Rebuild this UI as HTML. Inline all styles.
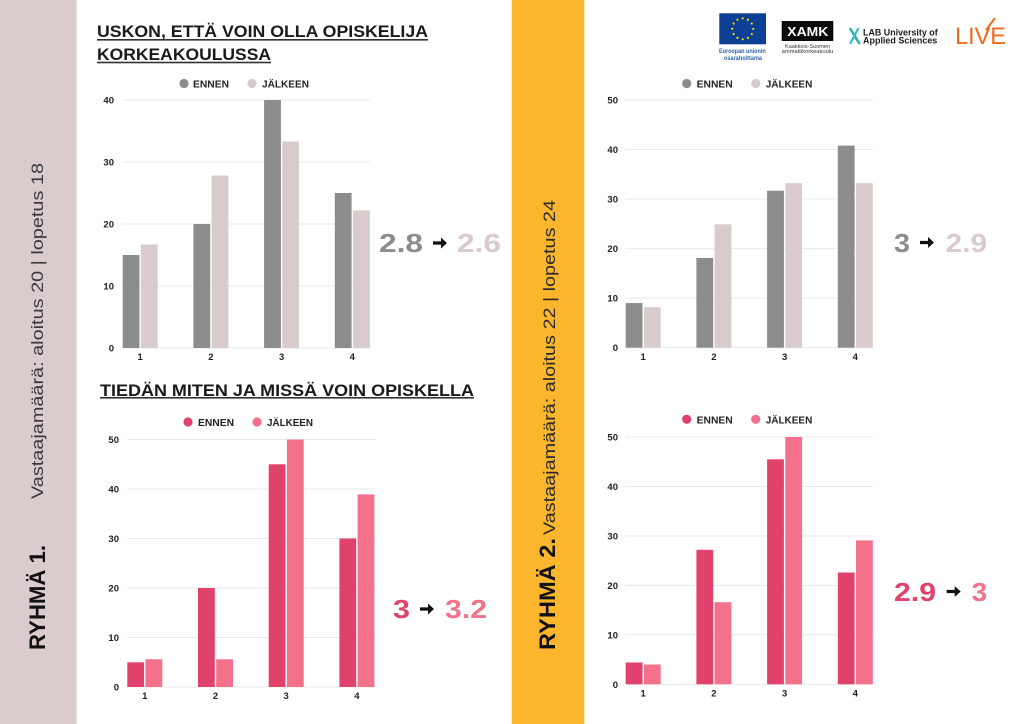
<!DOCTYPE html>
<html>
<head>
<meta charset="utf-8">
<style>
  html,body{margin:0;padding:0;background:#fff;}
  svg{display:block;}
  text{font-family:"Liberation Sans",sans-serif;}
</style>
</head>
<body>
<svg width="1024" height="724" viewBox="0 0 1024 724" xmlns="http://www.w3.org/2000/svg">
  <rect x="0" y="0" width="1024" height="724" fill="#ffffff"/>

  <!-- Sidebars -->
  <rect x="0" y="0" width="76.5" height="724" fill="#dacccc"/>
  <rect x="511.7" y="0" width="72.6" height="724" fill="#fbb62e"/>

  <!-- Left vertical texts -->
  <text transform="translate(45,650) rotate(-90)" font-size="22" font-weight="bold" fill="#111" textLength="105" lengthAdjust="spacingAndGlyphs">RYHMÄ 1.</text>
  <text transform="translate(43,499) rotate(-90)" font-size="16.5" fill="#3a3a3a" textLength="336" lengthAdjust="spacingAndGlyphs">Vastaajamäärä: aloitus 20 | lopetus 18</text>

  <!-- Right vertical texts -->
  <text transform="translate(555,650) rotate(-90)" font-size="22" font-weight="bold" fill="#111" textLength="112" lengthAdjust="spacingAndGlyphs">RYHMÄ 2.</text>
  <text transform="translate(555,535) rotate(-90)" font-size="16.5" fill="#2a2a2a" textLength="335" lengthAdjust="spacingAndGlyphs">Vastaajamäärä: aloitus 22 | lopetus 24</text>

  <!-- ============ TOP LEFT CHART ============ -->
  <text x="97" y="37" font-size="17" font-weight="bold" fill="#1a1a1a" textLength="331" lengthAdjust="spacingAndGlyphs">USKON, ETTÄ VOIN OLLA OPISKELIJA</text>
  <rect x="97" y="39" width="331" height="1.6" fill="#333"/>
  <text x="97" y="60" font-size="17" font-weight="bold" fill="#1a1a1a" textLength="174" lengthAdjust="spacingAndGlyphs">KORKEAKOULUSSA</text>
  <rect x="97" y="61.7" width="174" height="1.6" fill="#333"/>

  <!-- legend -->
  <circle cx="184" cy="83.5" r="4.6" fill="#8c8c8c"/>
  <text x="193" y="87.5" font-size="10" font-weight="bold" fill="#222" textLength="36" lengthAdjust="spacingAndGlyphs">ENNEN</text>
  <circle cx="252" cy="83.5" r="4.6" fill="#d9cbcb"/>
  <text x="262" y="87.5" font-size="10" font-weight="bold" fill="#222" textLength="47" lengthAdjust="spacingAndGlyphs">JÄLKEEN</text>

  <!-- grid -->
  <g stroke="#e9e9e9" stroke-width="1">
    <line x1="122" y1="100" x2="370" y2="100"/>
    <line x1="122" y1="162" x2="370" y2="162"/>
    <line x1="122" y1="224" x2="370" y2="224"/>
    <line x1="122" y1="286" x2="370" y2="286"/>
    <line x1="122" y1="348" x2="370" y2="348"/>
  </g>
  <g font-size="9.5" font-weight="bold" fill="#222" text-anchor="end">
    <text x="114" y="103.5">40</text>
    <text x="114" y="165.5">30</text>
    <text x="114" y="227.5">20</text>
    <text x="114" y="289.5">10</text>
    <text x="114" y="351.5">0</text>
  </g>
  <g fill="#8c8c8c">
    <rect x="122.7" y="255" width="16.8" height="93"/>
    <rect x="193.4" y="224" width="16.8" height="124"/>
    <rect x="264.1" y="100" width="16.8" height="248"/>
    <rect x="334.8" y="193" width="16.8" height="155"/>
  </g>
  <g fill="#d9cbcb">
    <rect x="140.9" y="244.5" width="16.8" height="103.5"/>
    <rect x="211.6" y="175.6" width="16.8" height="172.4"/>
    <rect x="282.3" y="141.5" width="16.8" height="206.5"/>
    <rect x="353.0" y="210.4" width="16.8" height="137.6"/>
  </g>
  <g font-size="9.5" font-weight="bold" fill="#222" text-anchor="middle">
    <text x="140.2" y="360">1</text>
    <text x="210.9" y="360">2</text>
    <text x="281.6" y="360">3</text>
    <text x="352.3" y="360">4</text>
  </g>
  <!-- big numbers -->
  <text x="379" y="252" font-size="26" font-weight="bold" fill="#8c8c8c" textLength="44" lengthAdjust="spacingAndGlyphs">2.8</text>
  <polygon points="433,241.4 441,241.4 441,237.5 447,243 441,248.5 441,244.6 433,244.6" fill="#111"/>
  <text x="457" y="252" font-size="26" font-weight="bold" fill="#d9cbcb" textLength="44" lengthAdjust="spacingAndGlyphs">2.6</text>

  <!-- ============ BOTTOM LEFT CHART ============ -->
  <text x="100" y="396" font-size="17" font-weight="bold" fill="#1a1a1a" textLength="374" lengthAdjust="spacingAndGlyphs">TIEDÄN MITEN JA MISSÄ VOIN OPISKELLA</text>
  <rect x="100" y="397" width="374" height="1.6" fill="#333"/>

  <circle cx="188" cy="422" r="4.6" fill="#e1426c"/>
  <text x="198" y="426" font-size="10" font-weight="bold" fill="#222" textLength="36" lengthAdjust="spacingAndGlyphs">ENNEN</text>
  <circle cx="257" cy="422" r="4.6" fill="#f3718a"/>
  <text x="267" y="426" font-size="10" font-weight="bold" fill="#222" textLength="46" lengthAdjust="spacingAndGlyphs">JÄLKEEN</text>

  <g stroke="#e9e9e9" stroke-width="1">
    <line x1="127" y1="439.5" x2="375" y2="439.5"/>
    <line x1="127" y1="489" x2="375" y2="489"/>
    <line x1="127" y1="538.5" x2="375" y2="538.5"/>
    <line x1="127" y1="588" x2="375" y2="588"/>
    <line x1="127" y1="637.5" x2="375" y2="637.5"/>
    <line x1="127" y1="687" x2="375" y2="687"/>
  </g>
  <g font-size="9.5" font-weight="bold" fill="#222" text-anchor="end">
    <text x="119" y="443">50</text>
    <text x="119" y="492.5">40</text>
    <text x="119" y="542">30</text>
    <text x="119" y="591.5">20</text>
    <text x="119" y="641">10</text>
    <text x="119" y="690.5">0</text>
  </g>
  <g fill="#e1426c">
    <rect x="127.3" y="662.3" width="16.8" height="24.7"/>
    <rect x="198.0" y="588" width="16.8" height="99"/>
    <rect x="268.7" y="464.3" width="16.8" height="222.7"/>
    <rect x="339.4" y="538.5" width="16.8" height="148.5"/>
  </g>
  <g fill="#f3718a">
    <rect x="145.5" y="659.3" width="16.8" height="27.7"/>
    <rect x="216.2" y="659.3" width="16.8" height="27.7"/>
    <rect x="286.9" y="439.5" width="16.8" height="247.5"/>
    <rect x="357.6" y="494.4" width="16.8" height="192.6"/>
  </g>
  <g font-size="9.5" font-weight="bold" fill="#222" text-anchor="middle">
    <text x="144.8" y="699">1</text>
    <text x="215.5" y="699">2</text>
    <text x="286.2" y="699">3</text>
    <text x="356.9" y="699">4</text>
  </g>
  <text x="393" y="618" font-size="26" font-weight="bold" fill="#e1426c" textLength="17" lengthAdjust="spacingAndGlyphs">3</text>
  <polygon points="420,607.4 428,607.4 428,603.5 434,609 428,614.5 428,610.6 420,610.6" fill="#111"/>
  <text x="445" y="618" font-size="26" font-weight="bold" fill="#f3718a" textLength="42" lengthAdjust="spacingAndGlyphs">3.2</text>

  <!-- ============ LOGOS ============ -->
  <rect x="719.3" y="13.3" width="46.7" height="31" fill="#0d3f94"/>
  <g fill="#ffdd00">
    <circle cx="742.7" cy="18.3" r="1.1"/>
    <circle cx="747.95" cy="19.71" r="1.1"/>
    <circle cx="751.79" cy="23.55" r="1.1"/>
    <circle cx="753.2" cy="28.8" r="1.1"/>
    <circle cx="751.79" cy="34.05" r="1.1"/>
    <circle cx="747.95" cy="37.89" r="1.1"/>
    <circle cx="742.7" cy="39.3" r="1.1"/>
    <circle cx="737.45" cy="37.89" r="1.1"/>
    <circle cx="733.61" cy="34.05" r="1.1"/>
    <circle cx="732.2" cy="28.8" r="1.1"/>
    <circle cx="733.61" cy="23.55" r="1.1"/>
    <circle cx="737.45" cy="19.71" r="1.1"/>
  </g>
  <text x="719" y="53" font-size="6" font-weight="bold" fill="#2f62ad" textLength="46.7" lengthAdjust="spacingAndGlyphs">Euroopan unionin</text>
  <text x="724" y="59.8" font-size="6" font-weight="bold" fill="#2f62ad" textLength="38" lengthAdjust="spacingAndGlyphs">osarahoittama</text>

  <rect x="781.7" y="21" width="51.6" height="20" fill="#0a0a0a"/>
  <text x="787.3" y="36" font-size="13" font-weight="bold" fill="#fff" textLength="41" lengthAdjust="spacingAndGlyphs">XAMK</text>
  <text x="785" y="48" font-size="5" fill="#333" textLength="45" lengthAdjust="spacingAndGlyphs">Kaakkois-Suomen</text>
  <text x="781.7" y="53" font-size="5" fill="#333" textLength="51.6" lengthAdjust="spacingAndGlyphs">ammattikorkeakoulu</text>

  <line x1="850.5" y1="29" x2="859" y2="43" stroke="#2bb89a" stroke-width="2.6" stroke-linecap="round"/>
  <line x1="858" y1="29" x2="850.5" y2="43" stroke="#38b6d8" stroke-width="2.2" stroke-linecap="round"/>
  <text x="863" y="35.5" font-size="9.5" font-weight="bold" fill="#1c1c1c" textLength="74.7" lengthAdjust="spacingAndGlyphs">LAB University of</text>
  <text x="863" y="43.5" font-size="9.5" font-weight="bold" fill="#1c1c1c" textLength="74.3" lengthAdjust="spacingAndGlyphs">Applied Sciences</text>

  <text x="955" y="44" font-size="24" fill="#ef6a1f" textLength="51" lengthAdjust="spacingAndGlyphs">LIVE</text>
  <line x1="986" y1="30" x2="995" y2="18" stroke="#ef6a1f" stroke-width="2"/>

  <!-- ============ TOP RIGHT CHART ============ -->
  <circle cx="686.7" cy="83.5" r="4.6" fill="#8c8c8c"/>
  <text x="696.7" y="87.5" font-size="10" font-weight="bold" fill="#222" textLength="36" lengthAdjust="spacingAndGlyphs">ENNEN</text>
  <circle cx="755.7" cy="83.5" r="4.6" fill="#d9cbcb"/>
  <text x="765.7" y="87.5" font-size="10" font-weight="bold" fill="#222" textLength="46.6" lengthAdjust="spacingAndGlyphs">JÄLKEEN</text>

  <g stroke="#e9e9e9" stroke-width="1">
    <line x1="625.5" y1="100" x2="873" y2="100"/>
    <line x1="625.5" y1="149.5" x2="873" y2="149.5"/>
    <line x1="625.5" y1="199" x2="873" y2="199"/>
    <line x1="625.5" y1="248.6" x2="873" y2="248.6"/>
    <line x1="625.5" y1="298.1" x2="873" y2="298.1"/>
    <line x1="625.5" y1="347.7" x2="873" y2="347.7"/>
  </g>
  <g font-size="9.5" font-weight="bold" fill="#222" text-anchor="end">
    <text x="618" y="103.5">50</text>
    <text x="618" y="153">40</text>
    <text x="618" y="202.5">30</text>
    <text x="618" y="252.1">20</text>
    <text x="618" y="301.6">10</text>
    <text x="618" y="351.2">0</text>
  </g>
  <g fill="#8c8c8c">
    <rect x="625.7" y="303.1" width="16.8" height="44.6"/>
    <rect x="696.4" y="258" width="16.8" height="89.7"/>
    <rect x="767.1" y="190.7" width="16.8" height="157"/>
    <rect x="837.8" y="145.6" width="16.8" height="202.1"/>
  </g>
  <g fill="#d9cbcb">
    <rect x="643.9" y="307.1" width="16.8" height="40.6"/>
    <rect x="714.6" y="224.3" width="16.8" height="123.4"/>
    <rect x="785.3" y="183.2" width="16.8" height="164.5"/>
    <rect x="856.0" y="183.2" width="16.8" height="164.5"/>
  </g>
  <g font-size="9.5" font-weight="bold" fill="#222" text-anchor="middle">
    <text x="643.2" y="360">1</text>
    <text x="713.9" y="360">2</text>
    <text x="784.6" y="360">3</text>
    <text x="855.3" y="360">4</text>
  </g>
  <text x="894" y="252" font-size="26" font-weight="bold" fill="#8c8c8c" textLength="16" lengthAdjust="spacingAndGlyphs">3</text>
  <polygon points="920,240.9 928,240.9 928,237 934,242.5 928,248 928,244.1 920,244.1" fill="#111"/>
  <text x="945.7" y="252" font-size="26" font-weight="bold" fill="#d9cbcb" textLength="41.3" lengthAdjust="spacingAndGlyphs">2.9</text>

  <!-- ============ BOTTOM RIGHT CHART ============ -->
  <circle cx="686.7" cy="419.3" r="4.6" fill="#e1426c"/>
  <text x="696.7" y="423.3" font-size="10" font-weight="bold" fill="#222" textLength="36" lengthAdjust="spacingAndGlyphs">ENNEN</text>
  <circle cx="755.7" cy="419.3" r="4.6" fill="#f3718a"/>
  <text x="765.7" y="423.3" font-size="10" font-weight="bold" fill="#222" textLength="46.6" lengthAdjust="spacingAndGlyphs">JÄLKEEN</text>

  <g stroke="#e9e9e9" stroke-width="1">
    <line x1="625.5" y1="437" x2="873" y2="437"/>
    <line x1="625.5" y1="486.5" x2="873" y2="486.5"/>
    <line x1="625.5" y1="535.9" x2="873" y2="535.9"/>
    <line x1="625.5" y1="585.4" x2="873" y2="585.4"/>
    <line x1="625.5" y1="634.8" x2="873" y2="634.8"/>
    <line x1="625.5" y1="684.3" x2="873" y2="684.3"/>
  </g>
  <g font-size="9.5" font-weight="bold" fill="#222" text-anchor="end">
    <text x="618" y="440.5">50</text>
    <text x="618" y="490">40</text>
    <text x="618" y="539.4">30</text>
    <text x="618" y="588.9">20</text>
    <text x="618" y="638.3">10</text>
    <text x="618" y="687.8">0</text>
  </g>
  <g fill="#e1426c">
    <rect x="625.7" y="662.5" width="16.8" height="21.8"/>
    <rect x="696.4" y="549.8" width="16.8" height="134.5"/>
    <rect x="767.1" y="459.3" width="16.8" height="225"/>
    <rect x="837.8" y="572.5" width="16.8" height="111.8"/>
  </g>
  <g fill="#f3718a">
    <rect x="643.9" y="664.5" width="16.8" height="19.8"/>
    <rect x="714.6" y="602.2" width="16.8" height="82.1"/>
    <rect x="785.3" y="437" width="16.8" height="247.3"/>
    <rect x="856.0" y="540.4" width="16.8" height="143.9"/>
  </g>
  <g font-size="9.5" font-weight="bold" fill="#222" text-anchor="middle">
    <text x="643.2" y="696.5">1</text>
    <text x="713.9" y="696.5">2</text>
    <text x="784.6" y="696.5">3</text>
    <text x="855.3" y="696.5">4</text>
  </g>
  <text x="894" y="601" font-size="26" font-weight="bold" fill="#e1426c" textLength="42" lengthAdjust="spacingAndGlyphs">2.9</text>
  <polygon points="946.7,589.9 954.7,589.9 954.7,586 960.7,591.5 954.7,597 954.7,593.1 946.7,593.1" fill="#111"/>
  <text x="971.7" y="601" font-size="26" font-weight="bold" fill="#f3718a" textLength="15.6" lengthAdjust="spacingAndGlyphs">3</text>
</svg>
</body>
</html>
